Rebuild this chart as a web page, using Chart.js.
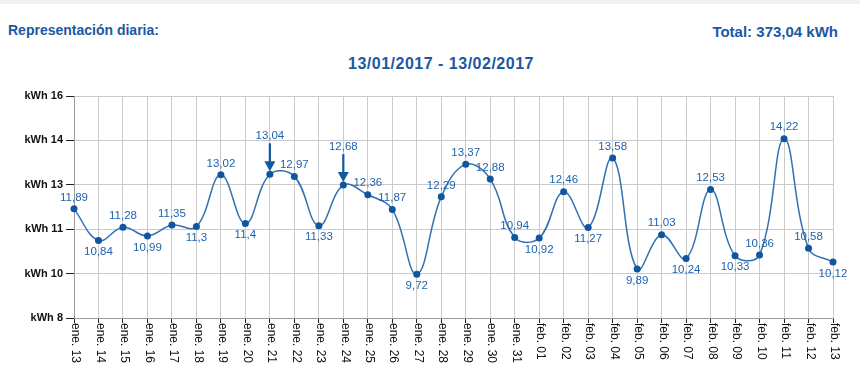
<!DOCTYPE html>
<html>
<head>
<meta charset="utf-8">
<script src="https://cdn.jsdelivr.net/npm/chart.js@4.4.0/dist/chart.umd.min.js"></script>
<style>
  html,body{margin:0;padding:0;background:#fff;}
  #wrap{position:relative;width:860px;height:376px;overflow:hidden;}
  #strip{position:absolute;left:0;top:0;width:860px;height:4px;background:#f1f1f1;}
  .t{position:absolute;font-family:"Liberation Sans",Arial,sans-serif;font-weight:bold;color:#1c58a2;white-space:nowrap;line-height:1;}
  #t1{left:8px;top:23px;font-size:14px;}
  #t2{right:22px;top:24px;font-size:15px;}
  #t3{left:0;width:882px;text-align:center;top:56px;font-size:16px;letter-spacing:0.5px;}
  canvas{position:absolute;left:0;top:0;}
</style>
</head>
<body>
<div id="wrap">
  <div id="strip"></div>
  <div class="t" id="t1">Representación diaria:</div>
  <div class="t" id="t2">Total: 373,04 kWh</div>
  <div class="t" id="t3">13/01/2017 - 13/02/2017</div>
  <canvas id="c" width="860" height="376"></canvas>
</div>
<script>
const categories = ["ene. 13","ene. 14","ene. 15","ene. 16","ene. 17","ene. 18","ene. 19","ene. 20","ene. 21","ene. 22","ene. 23","ene. 24","ene. 25","ene. 26","ene. 27","ene. 28","ene. 29","ene. 30","ene. 31","feb. 01","feb. 02","feb. 03","feb. 04","feb. 05","feb. 06","feb. 07","feb. 08","feb. 09","feb. 10","feb. 11","feb. 12","feb. 13"];
const dailyKWh = [11.89,10.84,11.28,10.99,11.35,11.3,13.02,11.4,13.04,12.97,11.33,12.68,12.36,11.87,9.72,12.29,13.37,12.88,10.94,10.92,12.46,11.27,13.58,9.89,11.03,10.24,12.53,10.33,10.36,14.22,10.58,10.12];
const yTickValues = [8.262,9.738,11.214,12.69,14.166,15.642];
const arrowIndices = [8,11];

const fmt = v => String(v).replace('.', ',');

const labelPlugin = {
  id:'labels',
  afterDatasetsDraw(chart){
    const ctx = chart.ctx;
    const meta = chart.getDatasetMeta(0);
    ctx.save();
    ctx.font = '11.5px "Liberation Sans", Arial, sans-serif';
    ctx.textAlign = 'center';
    ctx.textBaseline = 'middle';
    meta.data.forEach((pt,i)=>{
      const v = dailyKWh[i];
      const prev = i>0 ? dailyKWh[i-1] : Infinity;
      const next = i<dailyKWh.length-1 ? dailyKWh[i+1] : Infinity;
      const below = v < prev && v < next;
      const hasArrow = arrowIndices.includes(i);
      let y;
      if (hasArrow) {
        y = pt.y - 38;
        ctx.strokeStyle = '#1257a2';
        ctx.fillStyle = '#1257a2';
        ctx.lineWidth = 2.2;
        ctx.beginPath();
        ctx.moveTo(pt.x, y + 7);
        ctx.lineTo(pt.x, pt.y - 12);
        ctx.stroke();
        ctx.beginPath();
        ctx.moveTo(pt.x - 5.5, pt.y - 13);
        ctx.lineTo(pt.x + 5.5, pt.y - 13);
        ctx.lineTo(pt.x, pt.y - 3);
        ctx.closePath();
        ctx.fill();
      } else {
        y = below ? pt.y + 11.5 : pt.y - 11.5;
      }
      ctx.fillStyle = '#1f62ad';
      ctx.fillText(fmt(v), pt.x, y);
    });
    ctx.restore();
  }
};

const xLabelPlugin = {
  id:'xlabels',
  afterDraw(chart){
    const ctx = chart.ctx;
    const xs = chart.scales.x;
    ctx.save();
    ctx.font = '12px "Liberation Sans", Arial, sans-serif';
    ctx.fillStyle = '#111';
    ctx.textAlign = 'left';
    ctx.textBaseline = 'middle';
    categories.forEach((c,i)=>{
      const x = xs.getPixelForValue(i);
      ctx.save();
      ctx.translate(x + 1.5, xs.top + 5);
      ctx.rotate(Math.PI/2);
      ctx.fillText(c, 0, 0);
      ctx.restore();
    });
    ctx.restore();
  }
};

new Chart(document.getElementById('c'), {
  type:'line',
  data:{
    labels: categories,
    datasets:[{
      data: dailyKWh,
      borderColor:'#3270b2',
      borderWidth:1.5,
      tension:0.4,
      pointRadius:3.5,
      pointBackgroundColor:'#0f56a0',
      pointBorderColor:'#0f56a0',
      pointBorderWidth:0,
      fill:false,
      clip:false
    }]
  },
  options:{
    responsive:false,
    animation:false,
    layout:{padding:{top:96,right:27,bottom:0,left:0}},
    plugins:{legend:{display:false},tooltip:{enabled:false},title:{display:false}},
    scales:{
      x:{
        offset:false,
        grid:{color:'#cacaca',lineWidth:1,tickLength:5,tickColor:'#222',drawTicks:true},
        border:{color:'#9a9a9a'},
        ticks:{display:false},
        afterFit(s){ s.height = 58; }
      },
      y:{
        min:yTickValues[0],max:yTickValues[yTickValues.length-1],
        afterBuildTicks(s){ s.ticks = yTickValues.map(v=>({value:v})); },
        grid:{color:'#cacaca',lineWidth:1,tickLength:8,tickColor:'#222'},
        border:{color:'#9a9a9a'},
        ticks:{
          padding:3,
          color:'#111',
          font:{family:'"Liberation Sans", Arial, sans-serif',size:11,weight:'bold'},
          callback:(v)=>'kWh ' + Math.round(v)
        },
        afterFit(s){ s.width = 74; }
      }
    }
  },
  plugins:[labelPlugin, xLabelPlugin]
});
</script>
</body>
</html>
